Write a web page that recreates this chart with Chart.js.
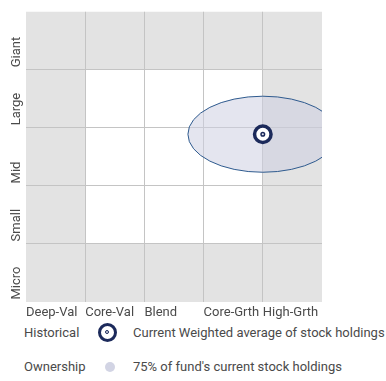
<!DOCTYPE html>
<html>
<head>
<meta charset="utf-8">
<script src="https://cdn.jsdelivr.net/npm/chart.js@4/dist/chart.umd.min.js"></script>
<style>
  body { margin: 0; background: #fff; font-family: Roboto, "Liberation Sans", sans-serif; color: #4a4a4a; }
  #wrap { position: relative; width: 386px; height: 320px; }
  .legend { position: absolute; left: 0; width: 386px; height: 20px; font-size: 13px; line-height: 20px; }
  .legend span { position: absolute; top: 0; white-space: nowrap; }
  .icon-centroid { width: 13px; height: 13px; border: 3.5px solid #1c2a5b; border-radius: 50%; background: #fff; }
  .icon-centroid::after { content: ''; position: absolute; left: 4px; top: 4px; width: 2px; height: 2px; border: 1.5px solid #1c2a5b; border-radius: 50%; background: #dfe0ea; }
  .icon-zone { width: 10px; height: 10px; border-radius: 50%; background: #d2d4e4; }
</style>
</head>
<body>
<div id="wrap"><canvas id="ownershipZone"></canvas></div>
<div class="legend" style="top:323px">
  <span style="left:24px">Historical</span>
  <span class="icon-centroid" style="left:98px;top:0"></span>
  <span style="left:133px">Current Weighted average of stock holdings</span>
</div>
<div class="legend" style="top:357px">
  <span style="left:24px">Ownership</span>
  <span class="icon-zone" style="left:105px;top:5px"></span>
  <span style="left:133px">75% of fund's current stock holdings</span>
</div>
<script>
const styleLabels = ['Deep-Val', 'Core-Val', 'Blend', 'Core-Grth', 'High-Grth'];
const sizeLabels = ['Micro', 'Small', 'Mid', 'Large', 'Giant'];
// weighted average position: [style score, size score]
const centroid = [4.0, 2.89];
// ownership zone half-widths in grid units: [style, size]
const zoneRadius = [1.265, 0.655];

const textColor = '#4a4a4a';
const navy = '#1c2a5b';

// gray frame with the white 3x3 core
const backgroundPlugin = {
    id: 'boxBackground',
    beforeDraw(chart) {
        const { ctx, chartArea, scales } = chart;
        ctx.save();
        ctx.fillStyle = '#e3e3e3';
        ctx.fillRect(chartArea.left, chartArea.top, chartArea.width, chartArea.height);
        const x0 = scales.x.getPixelForValue(1);
        const x1 = scales.x.getPixelForValue(4);
        const y0 = scales.y.getPixelForValue(4);
        const y1 = scales.y.getPixelForValue(1);
        ctx.fillStyle = '#ffffff';
        ctx.fillRect(x0, y0, x1 - x0, y1 - y0);
        ctx.restore();
    }
};

// ownership zone ellipse, clipped to the box
const zonePlugin = {
    id: 'ownershipZone',
    beforeDatasetsDraw(chart) {
        const { ctx, chartArea, scales } = chart;
        const cx = scales.x.getPixelForValue(centroid[0]);
        const cy = scales.y.getPixelForValue(centroid[1]);
        const rx = Math.abs(scales.x.getPixelForValue(centroid[0] + zoneRadius[0]) - cx);
        const ry = Math.abs(scales.y.getPixelForValue(centroid[1] + zoneRadius[1]) - cy);
        ctx.save();
        ctx.beginPath();
        ctx.rect(chartArea.left, chartArea.top, chartArea.width, chartArea.height);
        ctx.clip();
        ctx.beginPath();
        ctx.ellipse(cx, cy, rx, ry, 0, 0, Math.PI * 2);
        ctx.fillStyle = 'rgba(206, 208, 226, 0.55)';
        ctx.fill();
        ctx.lineWidth = 1;
        ctx.strokeStyle = '#2e5a8e';
        ctx.stroke();
        ctx.restore();
    }
};

// rotated size labels, sitting at the bottom of each row
const sizeLabelPlugin = {
    id: 'sizeLabels',
    afterDraw(chart) {
        const { ctx, scales } = chart;
        ctx.save();
        ctx.font = '13px Roboto';
        ctx.fillStyle = textColor;
        ctx.textAlign = 'left';
        ctx.textBaseline = 'middle';
        sizeLabels.forEach((label, i) => {
            ctx.save();
            ctx.translate(17, scales.y.getPixelForValue(i) - 2.5);
            ctx.rotate(-Math.PI / 2);
            ctx.fillText(label, 0, 0);
            ctx.restore();
        });
        ctx.restore();
    }
};

const innerGrid = (ctx) => (ctx.tick && (ctx.tick.value === 0 || ctx.tick.value === 5)) ? 'rgba(0,0,0,0)' : '#c4c4c4';

new Chart(document.getElementById('ownershipZone'), {
    type: 'scatter',
    data: {
        datasets: [
            {
                // inner ring of the centroid marker, kept on top
                data: [{ x: centroid[0], y: centroid[1] }],
                order: 0,
                pointRadius: 1.8,
                pointBorderWidth: 1.5,
                pointBorderColor: navy,
                pointBackgroundColor: '#e4e5ee'
            },
            {
                data: [{ x: centroid[0], y: centroid[1] }],
                order: 1,
                pointRadius: 8.25,
                pointBorderWidth: 3.5,
                pointBorderColor: navy,
                pointBackgroundColor: '#ffffff'
            }
        ]
    },
    options: {
        responsive: true,
        maintainAspectRatio: false,
        animation: false,
        layout: { padding: { top: 6, right: 64, left: 0, bottom: 0 } },
        plugins: {
            legend: { display: false },
            tooltip: { enabled: false }
        },
        scales: {
            x: {
                type: 'linear',
                min: 0,
                max: 5,
                border: { display: false },
                grid: { color: innerGrid, drawTicks: false },
                ticks: {
                    stepSize: 1,
                    align: 'start',
                    padding: 3,
                    autoSkip: false,
                    minRotation: 0,
                    maxRotation: 0,
                    color: textColor,
                    font: { family: 'Roboto', size: 13 },
                    callback: value => styleLabels[value] ?? ''
                },
                afterFit: scale => { scale.height = 18; }
            },
            y: {
                type: 'linear',
                min: 0,
                max: 5,
                border: { display: false },
                grid: { color: innerGrid, drawTicks: false },
                ticks: { stepSize: 1, display: false },
                afterFit: scale => { scale.width = 26; }
            }
        }
    },
    plugins: [backgroundPlugin, zonePlugin, sizeLabelPlugin]
});
</script>
</body>
</html>
